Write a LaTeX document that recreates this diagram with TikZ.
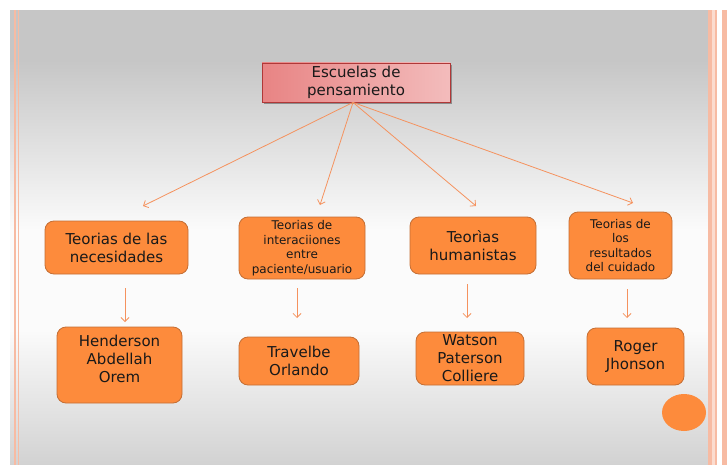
\documentclass[tikz,border=0pt]{standalone}
\usepackage{fontspec}
\setmainfont{DejaVu Sans}
\usetikzlibrary{arrows.meta,shadows}
\definecolor{orgfill}{HTML}{FD8B3C}
\definecolor{orgline}{HTML}{C46E34}
\definecolor{arr}{HTML}{F5925E}
\definecolor{pinkline}{HTML}{F7BBA3}
\definecolor{pinklight}{HTML}{FBDCCF}
\definecolor{topa}{HTML}{E88484}
\definecolor{topb}{HTML}{F3BCBC}
\definecolor{topline}{HTML}{B03838}
\definecolor{bggray}{HTML}{C6C6C6}
\definecolor{bgwhite}{HTML}{FBFBFB}
\definecolor{bgbottom}{HTML}{D2D2D2}
\begin{document}
\begin{tikzpicture}[x=1pt,y=-1pt,
  box/.style={draw=orgline, line width=0.8pt, fill=orgfill, rounded corners=9pt,
              align=center, inner sep=0pt, text=black!90},
  big/.style={font=\fontsize{15}{18}\selectfont},
  small/.style={font=\fontsize{12}{14.5}\selectfont},
  link/.style={draw=arr, line width=0.8pt, -{Straight Barb[length=4pt,width=8pt]}}]
\useasboundingbox (0,0) rectangle (727,465);
\fill[white] (0,0) rectangle (727,465);
% slide background
\fill[bggray] (10,10) rectangle (727,60);
\shade[top color=bggray, bottom color=bgwhite] (10,60) rectangle (727,230);
\fill[bgwhite] (10,229.5) rectangle (727,330);
\shade[top color=bgwhite, bottom color=bgbottom] (10,329.5) rectangle (727,465);
% side bars
\fill[pinkline] (13.5,10) rectangle (15.5,465);
\fill[pinkline] (17.5,10) rectangle (18.7,465);
\fill[white] (708,10) rectangle (727,465);
\fill[pinkline] (708,10) rectangle (711.5,465);
\fill[pinklight] (711.5,10) rectangle (714.5,465);
\fill[pinkline] (714.5,10) rectangle (716.5,465);
\fill[pinkline] (722,10) rectangle (727,465);
% top node shadow + node
\fill[black!45] (263.5,65) rectangle (451.5,104);
\node[draw=topline, line width=0.8pt, left color=topa, right color=topb,
      minimum width=188pt, minimum height=39pt, inner sep=0pt, align=center,
      big, text=black!90] (T) at (356,82.5) {Escuelas de\\pensamiento};
% row 1
\node[box, big, minimum width=143pt, minimum height=53pt] (A) at (116.5,247.5) {Teorias de las\\necesidades};
\node[box, small, minimum width=126pt, minimum height=62pt] (B) at (302,248) {Teorias de\\interaciiones\\entre\\paciente/usuario};
\node[box, big, minimum width=126pt, minimum height=57pt] (C) at (473,245.5) {Teorìas\\humanistas};
\node[box, small, minimum width=103pt, minimum height=67pt] (D) at (620.5,245.5) {Teorias de\\los\\resultados\\del cuidado};
% row 2
\node[box, big, minimum width=125pt, minimum height=76pt] (E) at (119.5,365) {Henderson\\Abdellah\\Orem\\[-6pt]};
\node[box, big, minimum width=120pt, minimum height=48pt] (F) at (299,361) {Travelbe\\Orlando};
\node[box, big, minimum width=108pt, minimum height=53pt] (G) at (470,358.5) {Watson\\Paterson\\Colliere};
\node[box, big, minimum width=97pt, minimum height=57pt] (H) at (635.5,356.5) {Roger\\Jhonson};
% circle
\fill[orgfill] (684,412.5) ellipse [x radius=22pt, y radius=18.5pt];
% connector ends
\coordinate (a1) at (143,206);
\coordinate (b1) at (320,205);
\coordinate (c1) at (476,206);
\coordinate (d1) at (633,203);
\coordinate (ae1) at (125,288);
\coordinate (ae2) at (125,322);
\coordinate (bf1) at (297,288);
\coordinate (bf2) at (297,318);
\coordinate (cg1) at (467,284);
\coordinate (cg2) at (467,318);
\coordinate (dh1) at (627,289);
\coordinate (dh2) at (627,318);
% connectors
\draw[link] ([xshift=-3pt]T.south) -- (a1);
\draw[link] ([xshift=-3pt]T.south) -- (b1);
\draw[link] ([xshift=-3pt]T.south) -- (c1);
\draw[link] ([xshift=-3pt]T.south) -- (d1);
\draw[link] (ae1) -- (ae2);
\draw[link] (bf1) -- (bf2);
\draw[link] (cg1) -- (cg2);
\draw[link] (dh1) -- (dh2);
\end{tikzpicture}
\end{document}
